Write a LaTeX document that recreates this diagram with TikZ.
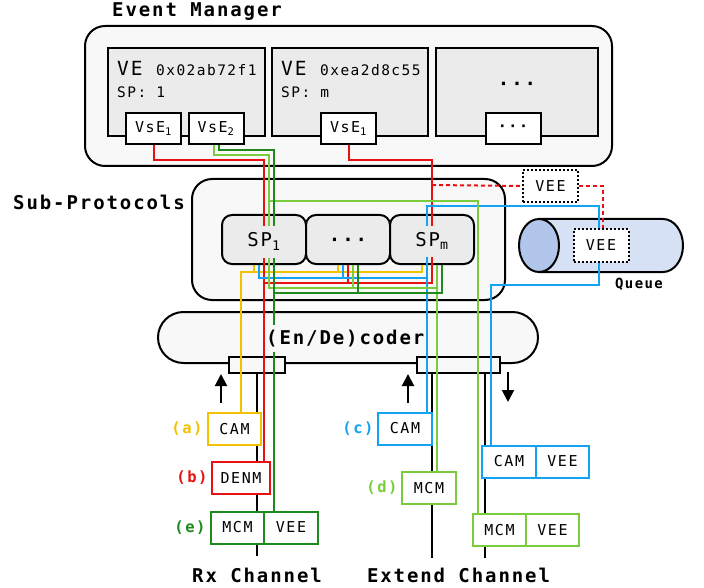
\documentclass[tikz,border=0pt]{standalone}
\usepackage{fontspec}
\newfontfamily\dsm{DejaVu Sans Mono}[LetterSpace=10]
\newcommand{\fsz}[1]{\fontsize{#1}{#1}\selectfont}
\usetikzlibrary{arrows.meta,positioning}
\definecolor{panelgray}{HTML}{F8F8F8}
\definecolor{boxgray}{HTML}{EBEBEB}
\definecolor{qbody}{HTML}{D6E1F5}
\definecolor{qend}{HTML}{B1C6EA}
\definecolor{cred}{HTML}{E81010}
\definecolor{cyel}{HTML}{F2C200}
\definecolor{cblu}{HTML}{14A3F2}
\definecolor{clgr}{HTML}{79CC3B}
\definecolor{cdgr}{HTML}{1E8A1E}

\begin{document}
\begin{tikzpicture}[x=1pt, y=-1pt,
    panel/.style={draw, line width=2pt, fill=panelgray, rounded corners=20pt},
    vebox/.style={draw, line width=2pt, fill=boxgray, minimum height=88},
    spbox/.style={draw, line width=2pt, fill=boxgray, rounded corners=10pt, minimum width=84, minimum height=49},
    subbox/.style={draw, line width=2pt, fill=white, minimum width=55, minimum height=31, inner sep=0pt, font=\dsm\fsz{15}},
    dotbox/.style={draw, line width=2pt, dotted, fill=white, minimum width=55, minimum height=32, inner sep=0pt, font=\dsm\fsz{15}},
    msg/.style={draw, line width=2pt, fill=white, minimum height=32, inner sep=0pt, outer sep=0pt, font=\dsm\fsz{15}},
    port/.style={draw, line width=2pt, fill=panelgray, minimum height=16},
    title/.style={anchor=base, inner sep=0pt, font=\dsm\bfseries\fsz{19}},
    plain/.style={anchor=base west, inner sep=0pt, font=\dsm\fsz{14.5}},
    tag/.style={font=\dsm\bfseries\fsz{15.5}},
    lab/.style={anchor=base, fill=boxgray, inner xsep=3pt, inner ysep=7pt, font=\dsm\fsz{19}},
    wire/.style={line width=2pt},
    chan/.style={line width=2pt},
    flow/.style={line width=2pt, -{Triangle[length=12pt, width=12pt]}},
    vdash/.style={line width=2pt, dash pattern=on 4pt off 3pt}
  ]
  \useasboundingbox (0,0) rectangle (704,588);

  % event manager
  \node[title] (emt) at (197,17) {Event Manager};
  \node[panel, minimum width=527, minimum height=140] (em) at (348.5,96) {};
  \node[vebox, minimum width=157] (ve1) at (186.5,92) {};
  \node[vebox, minimum width=156] (ve2) at (350,92) {};
  \node[vebox, minimum width=162] (ve3) at (517,92) {};
  \node[plain, font=\dsm\fsz{19.5}] (ve1n) at (117,76) {VE};
  \node[plain] (ve1id) at (156,76) {0x02ab72f1};
  \node[plain] (ve1sp) at (117,98) {SP: 1};
  \node[plain, font=\dsm\fsz{19.5}] (ve2n) at (281,76) {VE};
  \node[plain] (ve2id) at (320,76) {0xea2d8c55};
  \node[plain] (ve2sp) at (281,98) {SP: m};
  \node[font=\dsm\bfseries\fsz{19}] (ve3n) at (517,86) {···};
  \node[subbox] (vse11) at (153.5,128.5) {VsE\textsubscript{1}};
  \node[subbox] (vse12) at (216,128.5) {VsE\textsubscript{2}};
  \node[subbox] (vse21) at (348.5,128.5) {VsE\textsubscript{1}};
  \node[subbox] (vse31) at (513,128.5) {\bfseries ···};

  % sub-protocols
  \node[title] (spt) at (99,210) {Sub-Protocols};
  \node[panel, minimum width=313, minimum height=121] (subp) at (348.5,239.5) {};
  \node[spbox] (sp1) at (264,239.5) {};
  \node[spbox] (spd) at (348,239.5) {};
  \node[spbox] (spm) at (432,239.5) {};

  % queue
  \draw[line width=2pt, fill=qbody] (539,219) -- (663,219)
    arc[start angle=-90, end angle=90, x radius=20, y radius=26.5] -- (539,272);
  \draw[line width=2pt, fill=qend] (539,245.5) ellipse[x radius=20, y radius=26.5];
  \node[dotbox] (veeq) at (601,245.5) {VEE};
  \node[dotbox] (veet) at (550.5,186) {VEE};
  \node[anchor=base, inner sep=0pt, font=\dsm\bfseries\fsz{14}] (qlab) at (639,288) {Queue};

  % (en/de)coder
  \node[panel, rounded corners=25.5pt, minimum width=380, minimum height=51] (cod) at (348,337.5) {};
  \node[port, minimum width=56] (lport) at (257,365) {};
  \node[port, minimum width=83] (rport) at (458.5,365) {};
  \draw[flow] (221,403) -- (221,374);
  \draw[flow] (408,403) -- (408,374);
  \draw[flow] (508,372) -- (508,402);

  % channels
  \coordinate (rxend) at (257,556);
  \coordinate (exend) at (458.5,558);
  \draw[chan] (lport.south) -- (rxend);
  \draw[chan] ([xshift=-26.5]rport.south) -- ([xshift=-26.5]exend);
  \draw[chan] ([xshift=26.5]rport.south) -- ([xshift=26.5]exend);
  \node[title] (rxt) at (257,582) {Rx Channel};
  \node[title] (ext) at (458.5,582) {Extend Channel};

  % messages
  \node[msg, draw=cyel, minimum width=53] (cama) at (234.5,429) {CAM};
  \node[msg, draw=cred, minimum width=58] (denm) at (241,478) {DENM};
  \node[msg, draw=cdgr, minimum width=53] (mcme) at (237.5,527.5) {MCM};
  \node[msg, draw=cdgr, minimum width=54, right=0pt of mcme] (veee) {VEE};
  \node[msg, draw=cblu, minimum width=54] (camc) at (405,428.5) {CAM};
  \node[msg, draw=clgr, minimum width=54] (mcmd) at (429,488) {MCM};
  \node[msg, draw=cblu, minimum width=54] (camr) at (509,461.5) {CAM};
  \node[msg, draw=cblu, minimum width=53, right=0pt of camr] (veer) {VEE};
  \node[msg, draw=clgr, minimum width=53] (mcmr) at (499.5,530) {MCM};
  \node[msg, draw=clgr, minimum width=53, right=0pt of mcmr] (veem) {VEE};
  \node[tag, text=cyel] (taga) at (187,429) {(a)};
  \node[tag, text=cred] (tagb) at (192,478) {(b)};
  \node[tag, text=cblu] (tagc) at (358,429) {(c)};
  \node[tag, text=clgr] (tagd) at (382,488) {(d)};
  \node[tag, text=cdgr] (tage) at (190,527.5) {(e)};

  % yellow (a)
  \draw[wire, cyel] ([xshift=-10]spm.south) -- ++(0,7) -| ([xshift=6.5]cama.north);
  \draw[wire, cyel] ([xshift=-10]sp1.south) -- ++(0,7);
  \draw[wire, cyel] ([xshift=-10]spd.south) -- ++(0,7);

  % red (b)
  \draw[wire, cred] (vse11.south) -- ++(0,15) -| (sp1.north) -- (sp1.south |- denm.north);
  \draw[wire, cred] (vse21.south) -- ++(0,15) -| (spm.north) -- ([yshift=-18]spm.south) -| (sp1.south);
  \draw[wire, cred] (spd.south) -- ++(0,18);
  \draw[vdash, cred] ([yshift=29]spm.north) -- (veet.west);
  \draw[vdash, cred] (veet.east) -| ([xshift=2]veeq.north);

  % blue (c)
  \draw[wire, cblu] ([xshift=-5]sp1.south) -- ++(0,13) -| ([xshift=-5]spm.north) -- ++(0,-8) -| ([xshift=-2]veeq.north);
  \draw[wire, cblu] ([xshift=-5]spd.south) -- ++(0,13);
  \draw[wire, cblu] ([xshift=-5]spm.south) -- ([xshift=-5]spm.south |- camc.north);
  \draw[wire, cblu] ([xshift=-2]veeq.south) -- ++(0,22) -| ([xshift=-18]camr.north);

  % light green (d)
  \draw[wire, clgr] ([xshift=-2.5]vse12.south) -- ++(0,10) -| ([xshift=5]sp1.north)
    -- ([xshift=5,yshift=-23]sp1.south) -| ([xshift=5]spm.south) -- ([xshift=5]spm.south |- mcmd.north);
  \draw[wire, clgr] ([xshift=5]spd.south) -- ++(0,23);
  \draw[wire, clgr] ([xshift=5,yshift=13]sp1.north) -| ([xshift=-21.5]mcmr.north);

  % dark green (e)
  \draw[wire, cdgr] ([xshift=2.5]vse12.south) -- ++(0,5) -| ([xshift=10]sp1.north) -- ([xshift=10]sp1.south |- veee.north);
  \draw[wire, cdgr] ([xshift=10]spm.south) -- ++(0,28) -| ([xshift=10]sp1.south);
  \draw[wire, cdgr] ([xshift=10]spd.south) -- ++(0,28);

  % labels over the wires
  \node[lab] (sp1t) at (264,247) {SP\textsubscript{1}};
  \node[lab, font=\dsm\bfseries\fsz{19}] (spdt) at (348,247) {···};
  \node[lab] (spmt) at (432,247) {SP\textsubscript{m}};
  \node[lab, fill=panelgray, anchor=base west, inner xsep=0pt, inner ysep=5pt, font=\dsm\bfseries\fsz{19}] (codt) at (266,344) {(En/De)coder\hspace{2pt}};
\end{tikzpicture}
\end{document}
